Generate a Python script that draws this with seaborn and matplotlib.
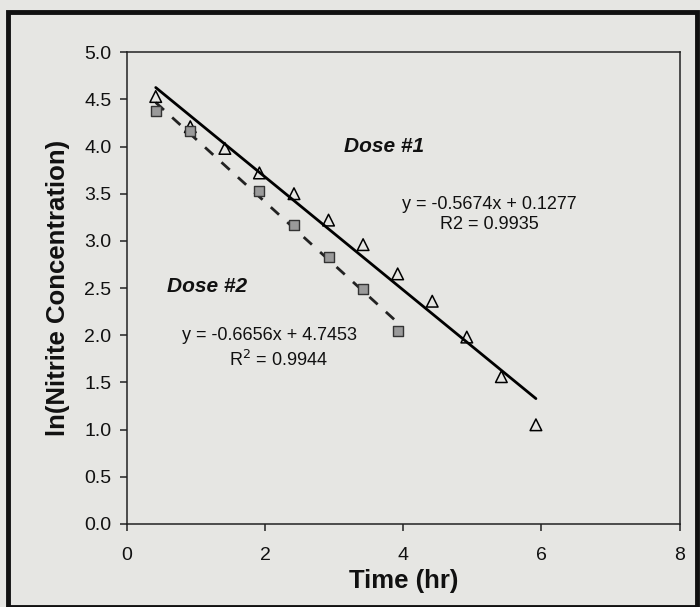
import numpy as np
import pandas as pd
import matplotlib
matplotlib.use("Agg")
import matplotlib.pyplot as plt
from matplotlib.patches import Rectangle
import seaborn as sns

# Số liệu
time_dose1 = [0.42, 0.92, 1.42, 1.92, 2.42, 2.92, 3.42, 3.92, 4.42, 4.92, 5.42, 5.92]
ln_dose1 = [4.53, 4.21, 3.98, 3.72, 3.50, 3.22, 2.96, 2.65, 2.36, 1.98, 1.56, 1.05]

time_dose2 = [0.42, 0.92, 1.92, 2.42, 2.92, 3.42, 3.92]
ln_dose2 = [4.38, 4.16, 3.53, 3.17, 2.83, 2.49, 2.04]

eq_dose1 = ["y = -0.5674x + 0.1277", "R2 = 0.9935"]
eq_dose2 = ["y = -0.6656x + 4.7453", "R$^2$ = 0.9944"]

df1 = pd.DataFrame({'time': time_dose1, 'ln': ln_dose1})
df2 = pd.DataFrame({'time': time_dose2, 'ln': ln_dose2})

bg = '#e6e6e3'
sns.set_style('ticks')
plt.rcParams['font.family'] = ['Liberation Sans', 'DejaVu Sans']
plt.rcParams['text.color'] = '#111111'
plt.rcParams['axes.labelcolor'] = '#111111'

fig = plt.figure(figsize=(7, 6.07), dpi=100, facecolor=bg)
ax = fig.add_axes([0.181, 0.137, 0.790, 0.777])
ax.set_facecolor(bg)

# Đường xu hướng
sns.regplot(data=df1, x='time', y='ln', ax=ax, ci=None, scatter=False,
            line_kws={'color': 'black', 'lw': 2.0})
sns.regplot(data=df2, x='time', y='ln', ax=ax, ci=None, scatter=False,
            line_kws={'color': '#222222', 'lw': 2.0, 'linestyle': (0, (4, 4))})

# Điểm dữ liệu
sns.scatterplot(data=df1, x='time', y='ln', ax=ax, marker='^', s=70,
                facecolor='none', edgecolor='black', linewidth=1.1, zorder=4)
sns.scatterplot(data=df2, x='time', y='ln', ax=ax, marker='s', s=55,
                color='#9a9a9a', edgecolor='#333333', linewidth=1.0, zorder=4)

ax.set_xlim(0, 8)
ax.set_ylim(0, 5)
ax.set_xticks([0, 2, 4, 6, 8])
ax.set_yticks(np.arange(0, 5.01, 0.5))
ax.set_yticklabels([f'{v:.1f}' for v in np.arange(0, 5.01, 0.5)])
ax.tick_params(direction='out', length=5, width=1.1, labelsize=14,
               color='#222222', labelcolor='#111111')
ax.tick_params(axis='y', pad=6)
ax.tick_params(axis='x', pad=12)
for s in ax.spines.values():
    s.set_linewidth(1.1)
    s.set_color('#222222')

ax.set_xlabel('Time (hr)', fontsize=18.5, fontweight='bold', labelpad=3)
ax.set_ylabel('ln(Nitrite Concentration)', fontsize=18.5, fontweight='bold', labelpad=10)

ax.text(3.73, 4.0, 'Dose #1', fontsize=15, fontweight='bold', style='italic',
        ha='center', va='center')
ax.text(1.16, 2.52, 'Dose #2', fontsize=15, fontweight='bold', style='italic',
        ha='center', va='center')
ax.text(5.25, 3.39, eq_dose1[0], fontsize=13, ha='center', va='center')
ax.text(5.25, 3.17, eq_dose1[1], fontsize=13, ha='center', va='center')
ax.text(2.07, 2.0, eq_dose2[0], fontsize=13, ha='center', va='center')
ax.text(2.2, 1.74, eq_dose2[1], fontsize=13, ha='center', va='center')

# Khung viền ngoài
fig.patches.append(Rectangle((8 / 700, 0), 689 / 700, 1 - 12 / 607,
                             transform=fig.transFigure, fill=False,
                             edgecolor='#111111', linewidth=3.5, zorder=10))

fig.savefig('out.png', dpi=100, facecolor=bg)
